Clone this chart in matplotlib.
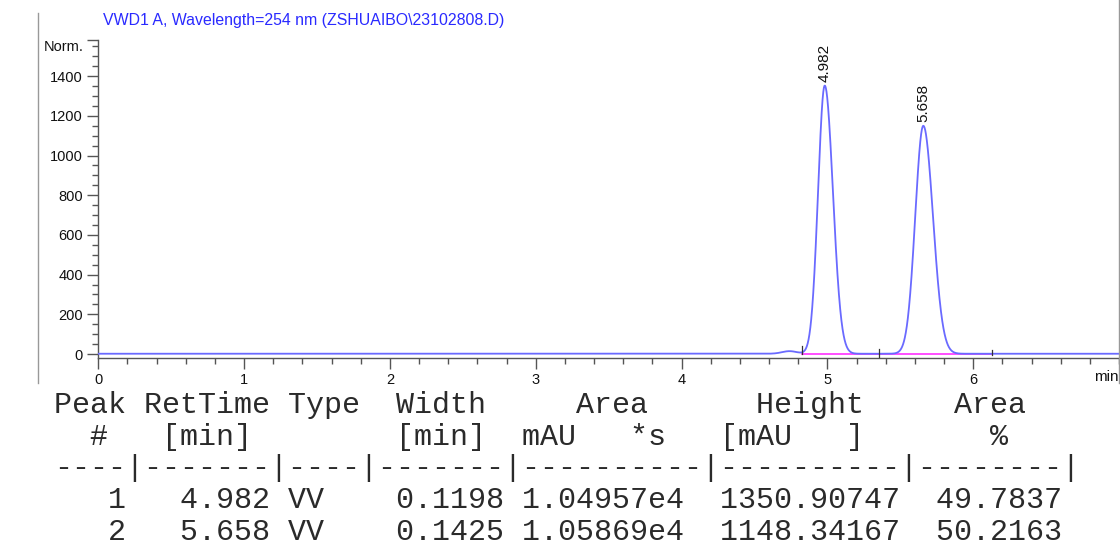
import numpy as np
import matplotlib
matplotlib.use("Agg")
import matplotlib.pyplot as plt
from matplotlib.lines import Line2D
from matplotlib.ticker import MultipleLocator, FixedLocator

# ---- data ----
title = "VWD1 A, Wavelength=254 nm (ZSHUAIBO\\23102808.D)"
peak_num = [1, 2]
ret_time = [4.982, 5.658]
peak_type = ["VV", "VV"]
peak_width = [0.1198, 0.1425]          # FWHM, min
peak_area = ["1.04957e4", "1.05869e4"]
peak_height = [1350.90747, 1148.34167]
area_pct = [49.7837, 50.2163]
# front / tail asymmetry of each peak (fraction of FWHM on the left side)
front_frac = [0.45, 0.455]
# small pre-peak bump
bump_time = [4.74]
bump_height = [13.0]
bump_width = [0.12]
# integration baseline and event marks
base_start = [4.827, 5.351]
base_end = [5.351, 6.132]
event_time = [4.827, 5.351, 6.132]
event_lo = [0.0, -15.0, -5.0]
event_hi = [40.0, 25.0, 20.0]

x_ticks = [0, 1, 2, 3, 4, 5, 6]
y_ticks = [0, 200, 400, 600, 800, 1000, 1200, 1400]

# ---- trace from the peak table ----
t = np.linspace(0, 7.0, 7001)
y = np.zeros_like(t)
for rt, h, w, f in zip(ret_time, peak_height, peak_width, front_frac):
    sl = (w * f) / 1.1774
    sr = (w * (1 - f)) / 1.1774
    s = np.where(t < rt, sl, sr)
    y += h * np.exp(-0.5 * ((t - rt) / s) ** 2)
for bt, bh, bw in zip(bump_time, bump_height, bump_width):
    s = bw / 2.3548
    y += bh * np.exp(-0.5 * ((t - bt) / s) ** 2)
y += 1.5

W, H = 1120, 544
fig = plt.figure(figsize=(W / 100, H / 100), dpi=100)
fig.patch.set_facecolor("white")

ax_l, ax_r = 98.3 / W, 1119 / W
ax_b, ax_t = 1 - 358 / H, 1 - 40 / H
ax = fig.add_axes([ax_l, ax_b, ax_r - ax_l, ax_t - ax_b])
ax.set_xlim(0, 7.0)
ax.set_ylim(-20, 1582)

trace_col = "#6a6aff"
ax.plot(t, y, color=trace_col, lw=1.3, zorder=3)
for s0, s1 in zip(base_start, base_end):
    ax.plot([s0, s1], [0, 0], color="#ff40ff", lw=1.3, zorder=2)
for et, lo, hi in zip(event_time, event_lo, event_hi):
    ax.plot([et, et], [lo, hi], color="#333333", lw=0.9, zorder=4)

for rt, h in zip(ret_time, peak_height):
    ax.annotate(f"{rt:.3f}", xy=(rt, h), xytext=(0, 3), textcoords="offset points",
                rotation=90, ha="center", va="bottom", fontsize=11,
                family="Liberation Sans", color="#111111")

for sp in ["top", "right"]:
    ax.spines[sp].set_visible(False)
for sp in ["left", "bottom"]:
    ax.spines[sp].set_color("#555555")
    ax.spines[sp].set_linewidth(1.0)

ax.xaxis.set_major_locator(FixedLocator(x_ticks))
ax.xaxis.set_minor_locator(MultipleLocator(0.2))
ax.yaxis.set_major_locator(FixedLocator(y_ticks + [1582]))
ax.yaxis.set_minor_locator(MultipleLocator(50))
ax.set_xticklabels([str(v) for v in x_ticks])
ax.set_yticklabels([str(v) for v in y_ticks] + [""])
ax.tick_params(axis="both", which="major", length=8, width=1.0, color="#555555",
               labelsize=10.5, pad=3, labelcolor="#111111")
ax.tick_params(axis="both", which="minor", length=4, width=1.0, color="#555555")
for lab in ax.get_xticklabels() + ax.get_yticklabels():
    lab.set_family("Liberation Sans")

fig.text(84 / W, 1 - 47 / H, "Norm.", ha="right", va="center", fontsize=10.5,
         family="Liberation Sans", color="#111111")
fig.text(1094 / W, 1 - 377 / H, "min", ha="left", va="center", fontsize=11,
         family="Liberation Sans", color="#111111")
fig.text(103 / W, 1 - 20 / H, title, ha="left", va="center", fontsize=11.4,
         family="Liberation Sans", color="#2a2aff")

# page border lines
fig.add_artist(Line2D([38 / W, 38 / W], [1 - 13 / H, 1 - 383 / H], color="#999999", lw=1.0))
fig.add_artist(Line2D([1119 / W, 1119 / W], [1.0, 1 - 383 / H], color="#999999", lw=1.0))

# ---- peak table ----
header1 = "Peak RetTime Type  Width     Area      Height     Area"
header2 = "  #   [min]        [min]  mAU   *s   [mAU   ]       %"
sep = "----|-------|----|-------|----------|----------|--------|"
rows = [f"{n:4d} {rt:7.3f} {tp:<4s} {w:7.4f} {a:>9s}  {h:10.5f}  {p:7.4f}"
        for n, rt, tp, w, a, h, p in zip(peak_num, ret_time, peak_type, peak_width,
                                         peak_area, peak_height, area_pct)]
lines = [header1, header2, sep] + rows
baselines = [413, 445, 476, 508, 540]
for txt, yb in zip(lines, baselines):
    fig.text(54 / W, 1 - yb / H, txt, ha="left", va="baseline", fontsize=21.6,
             family="Liberation Mono", color="#2a2a2a")

fig.savefig("out.png", dpi=100, facecolor="white")
